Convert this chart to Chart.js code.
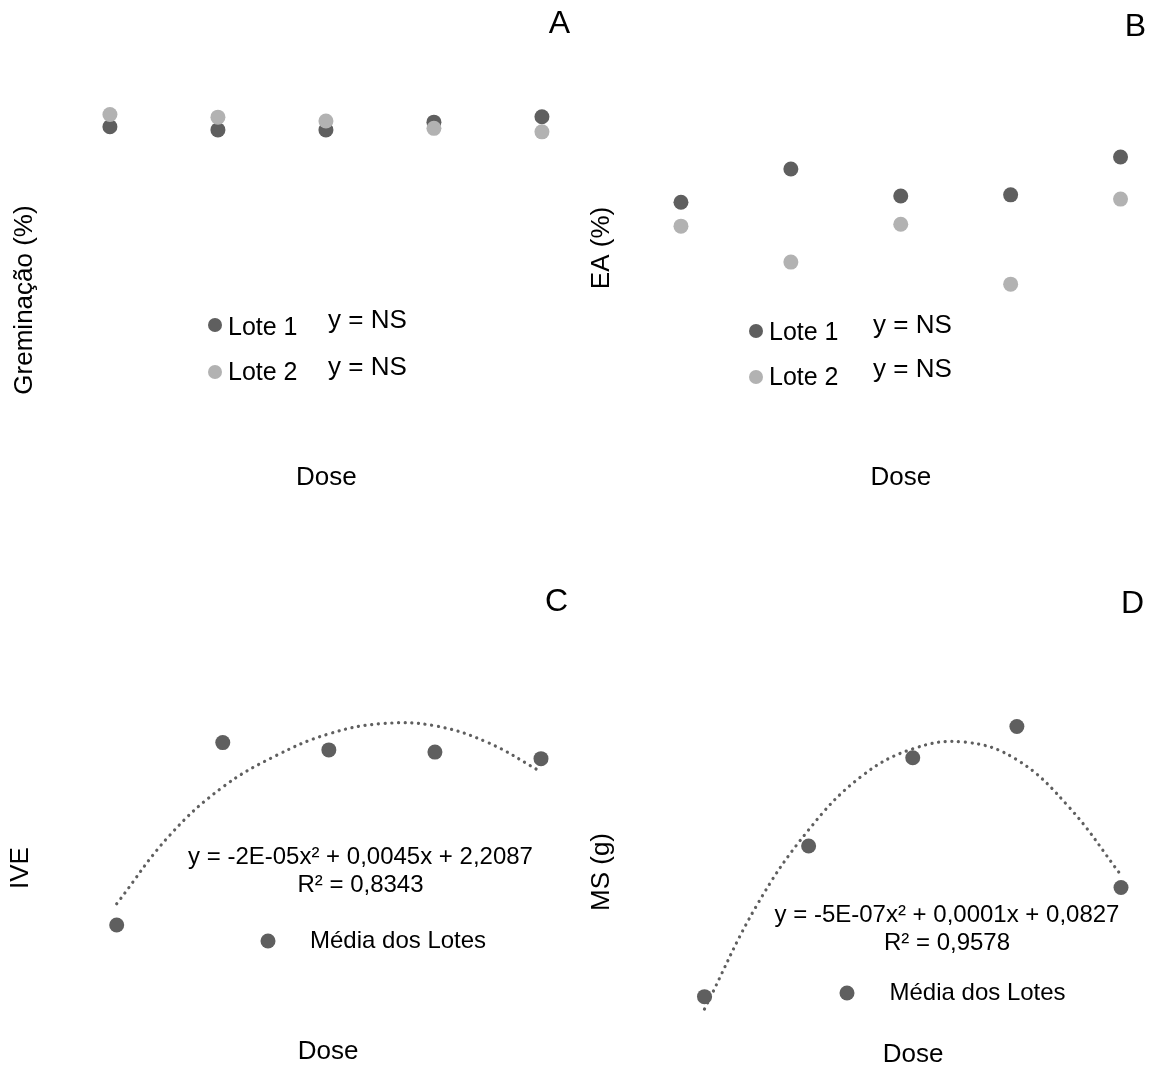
<!DOCTYPE html>
<html>
<head>
<meta charset="utf-8">
<script src="https://cdn.jsdelivr.net/npm/chart.js@4.4.1/dist/chart.umd.min.js"></script>
<style>
html, body { margin: 0; padding: 0; background: #fff; overflow: hidden; }
#wrap { position: relative; width: 1153px; height: 1066px; overflow: hidden; background: #fff; }
#wrap canvas { position: absolute; }
</style>
</head>
<body>
<div id="wrap">
  <canvas id="chartA" width="576" height="600" style="left:0px;top:0px"></canvas>
  <canvas id="chartB" width="577" height="496" style="left:576px;top:0px"></canvas>
  <canvas id="chartC" width="576" height="576" style="left:0px;top:580px"></canvas>
  <canvas id="chartD" width="577" height="574" style="left:576px;top:585px"></canvas>
</div>
<script>
// doses (x) - no tick labels are shown in the figure
const doses = [0, 50, 100, 150, 200];
const trendDoses = [0, 25, 50, 75, 100, 125, 150, 175, 200];

// A - Greminação (%)
const germLote1 = [83.6, 82.8, 82.8, 84.8, 86.2];
const germLote2 = [86.8, 86.1, 85.1, 83.2, 82.3];
// B - EA (%)
const eaLote1 = [64.1, 72.7, 65.7, 66.0, 75.8];
const eaLote2 = [57.9, 48.6, 58.4, 42.9, 64.9];
// C - IVE (média dos lotes + linha de tendência)
const iveMedia = [2.184, 2.434, 2.424, 2.421, 2.412];
const iveTrend = [2.213, 2.307, 2.373, 2.416, 2.446, 2.460, 2.457, 2.434, 2.394];
// D - MS (g)
const msMedia = [0.0827, 0.0856, 0.0873, 0.0879, 0.0848];
const msTrend = [0.08246, 0.08445, 0.08591, 0.08693, 0.08747, 0.08760, 0.08726, 0.08635, 0.08504];

const loteNames = ['Lote 1', 'Lote 2'];
const mediaName = 'Média dos Lotes';
const eqNS = 'y = NS';
const eqIVE = 'y = -2E-05x² + 0,0045x + 2,2087';
const r2IVE = 'R² = 0,8343';
const eqMS = 'y = -5E-07x² + 0,0001x + 0,0827';
const r2MS = 'R² = 0,9578';
const xTitle = 'Dose';

const DARK = 'rgb(95,95,95)';
const LIGHT = 'rgb(178,178,178)';
const FAMILY = '"Liberation Sans", Arial, Helvetica, sans-serif';
const font26 = { family: FAMILY, size: 26, weight: 'normal', lineHeight: 1.2 };
const font32 = { family: FAMILY, size: 32, weight: 'normal', lineHeight: 1.2 };

function pts(xs, ys) {
	return xs.map((x, i) => ({ x: x, y: ys[i] }));
}

function dotSet(label, xs, ys, color, order) {
	return {
		label: label,
		data: pts(xs, ys),
		backgroundColor: color,
		borderWidth: 0,
		pointRadius: 7.5,
		pointHoverRadius: 7.5,
		order: order
	};
}

function trendSet(xs, ys) {
	return {
		label: 'trend',
		data: pts(xs, ys),
		showLine: true,
		borderColor: DARK,
		borderWidth: 3.2,
		borderDash: [0.1, 6.6],
		borderCapStyle: 'round',
		tension: 0.4,
		pointRadius: 0,
		order: 5
	};
}

// legend markers + equation texts, drawn on top of the chart
function notes(items) {
	return {
		id: 'notes',
		afterDatasetsDraw(chart) {
			const ctx = chart.ctx;
			ctx.save();
			items.forEach(it => {
				if (it.marker !== undefined) {
					ctx.fillStyle = chart.data.datasets[it.marker].backgroundColor;
					ctx.beginPath();
					ctx.arc(it.x, it.y, it.r || 7, 0, Math.PI * 2);
					ctx.fill();
				} else {
					ctx.font = (it.size || 24) + 'px ' + FAMILY;
					ctx.fillStyle = '#000';
					ctx.textAlign = it.align || 'left';
					ctx.textBaseline = it.base || 'alphabetic';
					ctx.fillText(it.text, it.x, it.y);
				}
			});
			ctx.restore();
		}
	};
}

function panel(id, c) {
	return new Chart(document.getElementById(id), {
		type: 'scatter',
		data: { datasets: c.datasets },
		options: {
			responsive: false,
			animation: false,
			events: [],
			layout: { padding: c.pad },
			scales: {
				x: {
					type: 'linear',
					min: c.xMin, max: c.xMax,
					grid: { display: false, drawTicks: false },
					border: { display: false },
					ticks: { display: false },
					title: { display: true, text: xTitle, font: font26, color: '#000', padding: c.xTitlePad }
				},
				y: { display: false, min: c.yMin, max: c.yMax }
			},
			plugins: {
				legend: { display: false },
				tooltip: { enabled: false },
				title: { display: true, text: c.yTitle, position: 'left', font: font26, color: '#000', padding: c.yTitlePad },
				subtitle: { display: true, text: c.letter, position: 'top', align: 'end', font: font32, color: '#000', padding: c.letterPad }
			}
		},
		plugins: [notes(c.notes)]
	});
}

panel('chartA', {
	datasets: [dotSet(loteNames[0], doses, germLote1, DARK, 2), dotSet(loteNames[1], doses, germLote2, LIGHT, 1)],
	pad: { left: 9.4, right: 6, top: 0, bottom: 0 },
	xMin: -12.0, xMax: 212.3, yMin: 0, yMax: 100,
	yTitlePad: { top: 0, bottom: 43.4 },
	xTitlePad: { top: 12.4, bottom: 106.4 },
	letterPad: { top: 5, bottom: 20 },
	yTitle: 'Greminação (%)', letter: 'A',
	notes: [
		{ marker: 0, x: 215, y: 325 },
		{ text: loteNames[0], x: 228, y: 335, size: 25 },
		{ text: eqNS, x: 328, y: 328, size: 26 },
		{ marker: 1, x: 215, y: 372 },
		{ text: loteNames[1], x: 228, y: 380, size: 25 },
		{ text: eqNS, x: 328, y: 375, size: 26 }
	]
});

panel('chartB', {
	datasets: [dotSet(loteNames[0], doses, eaLote1, DARK, 2), dotSet(loteNames[1], doses, eaLote2, LIGHT, 1)],
	pad: { left: 10.4, right: 7, top: 0, bottom: 0 },
	xMin: -11.36, xMax: 211.36, yMin: 0, yMax: 100,
	yTitlePad: { top: 0, bottom: 38.4 },
	xTitlePad: { top: 12.4, bottom: 2.4 },
	letterPad: { top: 7.8, bottom: 17.2 },
	yTitle: 'EA (%)', letter: 'B',
	notes: [
		{ marker: 0, x: 180, y: 331 },
		{ text: loteNames[0], x: 193, y: 340, size: 25 },
		{ text: eqNS, x: 297, y: 333, size: 26 },
		{ marker: 1, x: 180, y: 377 },
		{ text: loteNames[1], x: 193, y: 385, size: 25 },
		{ text: eqNS, x: 297, y: 377, size: 26 }
	]
});

panel('chartC', {
	datasets: [dotSet(mediaName, doses, iveMedia, DARK, 1), trendSet(trendDoses, iveTrend)],
	pad: { left: 5.4, right: 8, top: 0, bottom: 0 },
	xMin: -13.53, xMax: 212.73, yMin: 2.04, yMax: 2.57,
	yTitlePad: { top: 0, bottom: 51.4 },
	xTitlePad: { top: 6.4, bottom: 88.4 },
	letterPad: { top: 2.8, bottom: 22.2 },
	yTitle: 'IVE', letter: 'C',
	notes: [
		{ text: eqIVE, x: 360.5, y: 277, align: 'center', base: 'middle' },
		{ text: r2IVE, x: 360.5, y: 305, align: 'center', base: 'middle' },
		{ marker: 0, x: 268, y: 361, r: 7.5 },
		{ text: mediaName, x: 310, y: 361, base: 'middle' }
	]
});

panel('chartD', {
	datasets: [dotSet(mediaName, doses, msMedia, DARK, 1), trendSet(trendDoses, msTrend)],
	pad: { left: 10.4, right: 9, top: 0, bottom: 0 },
	xMin: -10.8, xMax: 211.04, yMin: 0.082, yMax: 0.0895,
	yTitlePad: { top: 0, bottom: 64.4 },
	xTitlePad: { top: 6.4, bottom: 88.4 },
	letterPad: { top: 0, bottom: 20 },
	yTitle: 'MS (g)', letter: 'D',
	notes: [
		{ text: eqMS, x: 371, y: 330, align: 'center', base: 'middle' },
		{ text: r2MS, x: 371, y: 358, align: 'center', base: 'middle' },
		{ marker: 0, x: 271, y: 408, r: 7.5 },
		{ text: mediaName, x: 313.5, y: 408, base: 'middle' }
	]
});
</script>
</body>
</html>
